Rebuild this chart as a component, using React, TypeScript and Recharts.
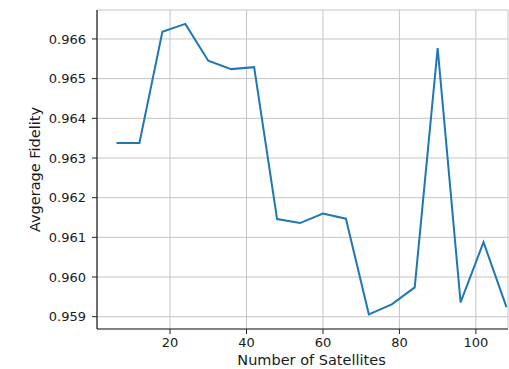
import { LineChart, Line, XAxis, YAxis, CartesianGrid } from "recharts";

const satellites = [6, 12, 18, 24, 30, 36, 42, 48, 54, 60, 66, 72, 78, 84, 90, 96, 102, 108];
const fidelity = [
  0.96338, 0.96338, 0.96618, 0.96638, 0.96545, 0.96524, 0.96529, 0.96146, 0.96136,
  0.9616, 0.96147, 0.95906, 0.95931, 0.95974, 0.96577, 0.95936, 0.96088, 0.95924,
];
const xTicks = [20, 40, 60, 80, 100];
const yTicks = [0.959, 0.96, 0.961, 0.962, 0.963, 0.964, 0.965, 0.966];

const data = satellites.map((x, i) => ({ x, y: fidelity[i] }));

const FONT = "DejaVu Sans, sans-serif";
const tickStyle = { fontFamily: FONT, fontSize: 13, fill: "#1a1a1a" };

export default function App() {
  return (
    <div style={{ position: "absolute", left: 0, top: 0 }}>
      <LineChart
        width={509}
        height={369}
        data={data}
        margin={{ top: 10, right: 1, left: 0, bottom: 0 }}
      >
        <CartesianGrid stroke="#c4c4c4" strokeWidth={1} />
        <XAxis
          dataKey="x"
          type="number"
          domain={[0.9, 108.4]}
          ticks={xTicks}
          allowDataOverflow
          height={40}
          tickSize={5}
          tickMargin={4}
          tick={tickStyle}
          stroke="#222"
          tickLine={{ stroke: "#222" }}
          axisLine={{ stroke: "#222", strokeWidth: 1.2 }}
          label={({ viewBox }: any) => (
            // the original axes runs past the cropped right edge, so its label sits right of centre
            <text
              x={viewBox.x + viewBox.width / 2 + 9}
              y={viewBox.y + 36}
              textAnchor="middle"
              fontFamily={FONT}
              fontSize={14.5}
              fill="#1a1a1a"
            >
              Number of Satellites
            </text>
          )}
        />
        <XAxis
          xAxisId="top"
          orientation="top"
          height={0}
          tick={false}
          tickLine={false}
          axisLine={{ stroke: "#555", strokeWidth: 1.5 }}
        />
        <YAxis
          type="number"
          domain={[0.95869, 0.96673]}
          ticks={yTicks}
          allowDataOverflow
          width={97}
          tickSize={5}
          tickMargin={6}
          tick={tickStyle}
          tickFormatter={(v: number) => v.toFixed(3)}
          tickLine={{ stroke: "#222" }}
          axisLine={{ stroke: "#222", strokeWidth: 1.2 }}
          label={({ viewBox }: any) => {
            const cx = 40;
            const cy = viewBox.y + viewBox.height / 2;
            return (
              <text
                x={cx}
                y={cy}
                textAnchor="middle"
                transform={`rotate(-90 ${cx} ${cy})`}
                fontFamily={FONT}
                fontSize={14.5}
                fill="#1a1a1a"
              >
                Avgerage Fidelity
              </text>
            );
          }}
        />
        <Line
          type="linear"
          dataKey="y"
          stroke="#1f77b4"
          strokeWidth={2}
          dot={false}
          isAnimationActive={false}
        />
      </LineChart>
    </div>
  );
}
